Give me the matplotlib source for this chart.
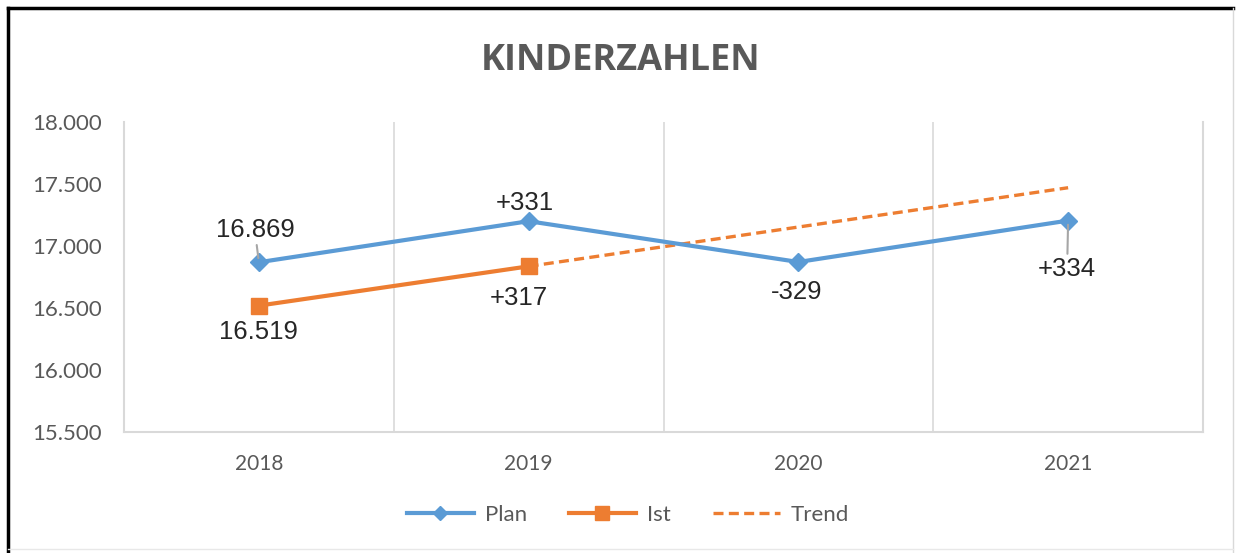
import matplotlib
matplotlib.use('Agg')
import matplotlib.pyplot as plt
from matplotlib.lines import Line2D

years = ['2018', '2019', '2020', '2021']
plan = [16869, 17200, 16871, 17205]
ist = [16519, 16836]
trend = [16836, 17153, 17470]   # 2019..2021
plan_labels = ['16.869', '+331', '-329', '+334']
ist_labels = ['16.519', '+317']
yticks = [15500, 16000, 16500, 17000, 17500, 18000]

blue = '#5B9BD5'
orange = '#ED7D31'
grey = '#595959'

fig = plt.figure(figsize=(12.36, 5.53), dpi=100)
ax = fig.add_axes([124/1236, 1-432/553, 1079/1236, 310/553])

x = list(range(len(years)))
ax.plot(x, plan, color=blue, lw=3, marker='D', ms=9, zorder=3)
ax.plot(x[:2], ist, color=orange, lw=3, marker='s', ms=12, zorder=4)
ax.plot(x[1:], trend, color=orange, lw=2.4, ls=(0, (3, 1.6)), zorder=2)

ax.set_xlim(-0.5, 3.5)
ax.set_ylim(15500, 18000)
ax.set_yticks(yticks)
ax.set_yticklabels(['{:,}'.format(v).replace(',', '.') for v in yticks],
                   fontsize=16, color=grey, family='Lato')
ax.set_xticks(x)
ax.set_xticklabels(years, fontsize=15, color=grey, family='Lato')
ax.set_xticks([0.5, 1.5, 2.5], minor=True)
ax.tick_params(axis='both', which='both', length=0)
ax.tick_params(axis='x', pad=16)
ax.tick_params(axis='y', pad=16)
ax.grid(axis='x', which='minor', color='#D9D9D9', lw=1.2)
ax.spines['top'].set_visible(False)
for s in ['left', 'right', 'bottom']:
    ax.spines[s].set_color('#D9D9D9')
    ax.spines[s].set_linewidth(1.5)

# data labels (offsets in pixels)
plan_off = [(-4, 32), (-4, 18), (-2, -30), (-1, -48)]
ist_off = [(0, -26), (-10, -32)]
lead = dict(arrowstyle='-', color='#A6A6A6', lw=1.5, shrinkA=0, shrinkB=3)
for i, (lab, off) in enumerate(zip(plan_labels, plan_off)):
    ap = lead if i in (0, 3) else None
    ax.annotate(lab, (x[i], plan[i]), xytext=off, textcoords='offset pixels',
                ha='center', va='center', fontsize=18.5, family='Liberation Sans',
                color='#262626', arrowprops=ap)
for i, (lab, off) in enumerate(zip(ist_labels, ist_off)):
    ax.annotate(lab, (x[i], ist[i]), xytext=off, textcoords='offset pixels',
                ha='center', va='center', fontsize=18.5, family='Liberation Sans',
                color='#262626')

fig.text(621/1236, 1-61/553, 'KINDERZAHLEN', ha='center', va='center',
         fontsize=26, fontweight='bold', color=grey, family='Open Sans')

handles = [Line2D([], [], color=blue, lw=3, marker='D', ms=7),
           Line2D([], [], color=orange, lw=3, marker='s', ms=10),
           Line2D([], [], color=orange, lw=2.4, ls=(0, (3, 1.6)))]
fig.legend(handles, ['Plan', 'Ist', 'Trend'], loc='center',
           bbox_to_anchor=(628/1236, 1-515/553), ncol=3, frameon=False,
           prop={'family': 'Lato', 'size': 16}, labelcolor=grey,
           handlelength=3.0, columnspacing=1.9, handletextpad=0.5)

# outer frame
fig.add_artist(Line2D([8/1236, 8/1236], [0, 1-8/553], color='black', lw=2.5, transform=fig.transFigure))
fig.add_artist(Line2D([8/1236, 1233/1236], [1-8/553, 1-8/553], color='black', lw=2.5, transform=fig.transFigure))
fig.add_artist(Line2D([1233/1236, 1233/1236], [0, 1-8/553], color='#D9D9D9', lw=1, transform=fig.transFigure))
fig.add_artist(Line2D([8/1236, 1233/1236], [4/553, 4/553], color='#E8E8E8', lw=1, transform=fig.transFigure))

fig.savefig('out.png', dpi=100)
